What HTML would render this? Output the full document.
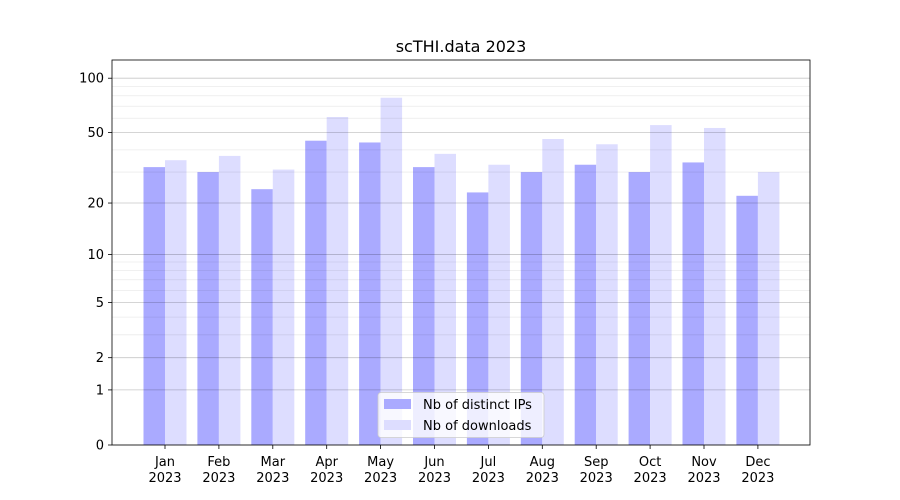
<!DOCTYPE html>
<html><head><meta charset="utf-8"><style>
body{margin:0;background:#fff}
svg{display:block;font-family:"DejaVu Sans","Liberation Sans",sans-serif}
</style></head><body>
<svg id="c" width="900" height="500"></svg>
<script>
const categories=["Jan","Feb","Mar","Apr","May","Jun","Jul","Aug","Sep","Oct","Nov","Dec"];
const ipsValues=[32,30,24,45,44,32,23,30,33,30,34,22];
const downloadValues=[35,37,31,61,78,38,33,46,43,55,53,30];
const majorTicks=[0,1,2,5,10,20,50,100];
const minorTicks=[3,4,6,7,8,9,30,40,60,70,80,90];
const NS="http://www.w3.org/2000/svg";
const svg=document.getElementById('c');
const L=112,R=810,T=60,B=445;
function y(v){return B-183*Math.log10(1+v);}
const step=53.9, x0=165;
function xc(i){return x0+i*step;}
function mk(t,a,p){const e=document.createElementNS(NS,t);for(const k in a)e.setAttribute(k,a[k]);(p||svg).appendChild(e);return e;}
categories.forEach((c,i)=>{
const b1=mk('rect',{x:xc(i)-21.5,y:y(ipsValues[i]),width:21.5,height:B-y(ipsValues[i]),fill:'#aaaaff'});


const b2=mk('rect',{x:xc(i),y:y(downloadValues[i]),width:21.5,height:B-y(downloadValues[i]),fill:'#ddddff'});


const t=mk('line',{x1:xc(i),x2:xc(i),y1:B,y2:B+4,stroke:'#000','stroke-width':0.8});


const tx=mk('text',{x:xc(i),y:B+21,'text-anchor':'middle','font-size':13});
tx.innerHTML='<tspan x="'+xc(i)+'">'+c+'</tspan><tspan x="'+xc(i)+'" dy="16">2023</tspan>';


});
minorTicks.forEach(v=>{const l=mk('line',{x1:L,x2:R,y1:y(v),y2:y(v),stroke:'#000','stroke-opacity':0.08,'stroke-width':0.8});

});
majorTicks.forEach(v=>{const l=mk('line',{x1:L,x2:R,y1:y(v),y2:y(v),stroke:'#000','stroke-opacity':0.22,'stroke-width':0.8});


const t=mk('line',{x1:L-4,x2:L,y1:y(v),y2:y(v),stroke:'#000','stroke-width':0.8});


const tx=mk('text',{x:L-8,y:y(v)+4.5,'text-anchor':'end','font-size':13});tx.textContent=v;

});
const fr=mk('rect',{x:L,y:T,width:R-L,height:B-T,fill:'none',stroke:'#000','stroke-width':0.8});


const ti=mk('text',{x:461,y:52,'text-anchor':'middle','font-size':16});ti.textContent='scTHI.data 2023';


const lg=mk('g',{});


mk('rect',{x:378,y:392.5,width:166,height:45,rx:3,fill:'#fff','fill-opacity':0.8,stroke:'#ccc','stroke-width':0.8},lg);
mk('rect',{x:384,y:399,width:27,height:10,fill:'#aaaaff'},lg);
mk('rect',{x:384,y:420,width:27,height:10,fill:'#ddddff'},lg);
const l1=mk('text',{x:423,y:409,'font-size':13},lg);l1.textContent='Nb of distinct IPs';


const l2=mk('text',{x:423,y:430,'font-size':13},lg);l2.textContent='Nb of downloads';


</script>
</body></html>
